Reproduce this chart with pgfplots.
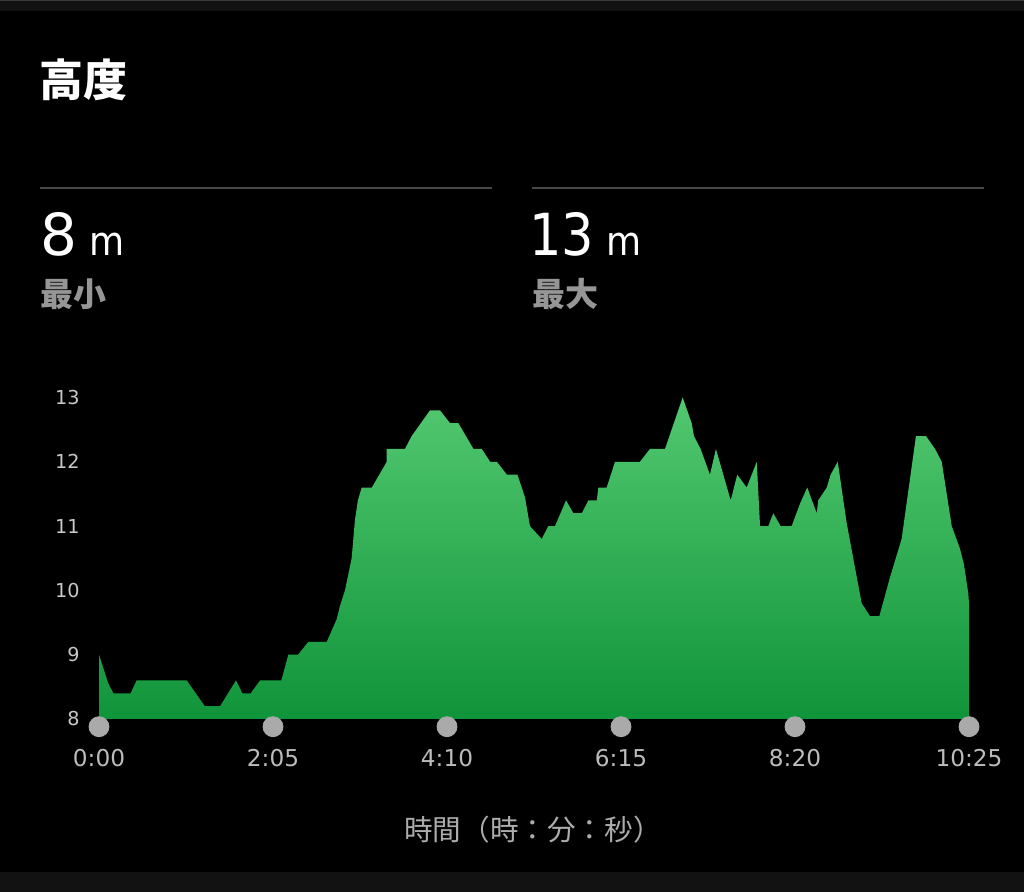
\documentclass[border=0pt]{standalone}
\usepackage{fontspec}
\usepackage{graphicx}
\usepackage{pgfplots}
\pgfplotsset{compat=1.18}
\setmainfont{DejaVu Sans}
\newfontfamily\jp{Noto Sans CJK JP}

\definecolor{band}{RGB}{18,18,18}
\definecolor{bandline}{RGB}{58,58,58}
\definecolor{sep}{RGB}{72,72,72}
\definecolor{subtxt}{RGB}{150,150,150}
\definecolor{ytc}{RGB}{200,200,200}
\definecolor{xtc}{RGB}{188,188,188}
\definecolor{titc}{RGB}{172,172,172}
\definecolor{dotc}{RGB}{170,170,170}
\definecolor{gtop}{RGB}{82,200,112}
\definecolor{gbot}{RGB}{16,148,58}

\begin{document}
\begin{tikzpicture}
% page frame, 1px = 0.5pt
\fill[black] (0,0) rectangle (512pt,446pt);
\begin{scope}[x=0.5pt,y=-0.5pt,shift={(0,446pt)}]
  \fill[band] (0,0) rectangle (1024,11);
  \fill[bandline] (0,0) rectangle (1024,1.5);
  \fill[band] (0,872) rectangle (1024,892);
  \node[anchor=west,inner sep=0pt,text=white] at (39,80)
    {\jp\bfseries\fontsize{22}{24}\selectfont 高度};
  \draw[sep,line width=1pt] (40,188) -- (492,188);
  \draw[sep,line width=1pt] (532,188) -- (984,188);
  \node[anchor=base west,inner sep=0pt,text=white] at (40,256)
    {\fontsize{29}{30}\selectfont 8};
  \node[anchor=base west,inner sep=0pt,text=white] at (89,256)
    {\fontsize{20}{22}\selectfont\scalebox{0.9}[1]{m}};
  \node[anchor=base west,inner sep=0pt,text=white] at (529,256)
    {\fontsize{29}{30}\selectfont\scalebox{0.88}[1]{13}};
  \node[anchor=base west,inner sep=0pt,text=white] at (606,256)
    {\fontsize{20}{22}\selectfont\scalebox{0.9}[1]{m}};
  \node[anchor=west,inner sep=0pt,text=subtxt] at (40,294)
    {\jp\bfseries\fontsize{16.5}{18}\selectfont 最小};
  \node[anchor=west,inner sep=0pt,text=subtxt] at (532,294)
    {\jp\bfseries\fontsize{16.5}{18}\selectfont 最大};
  \node[inner sep=0pt,text=titc] at (533,830)
    {\jp\fontsize{14.3}{16}\selectfont 時間（時：分：秒）};
\end{scope}

\begin{axis}[
  at={(49.5pt,86.5pt)}, anchor=south west,
  scale only axis,
  width=435pt, height=160.75pt,
  xmin=0, xmax=625, ymin=8, ymax=13,
  axis line style={draw=none},
  tick style={draw=none},
  clip=false,
  xtick={0,125,250,375,500,625},
  xticklabels={0:00,2:05,4:10,6:15,8:20,10:25},
  ytick={8,9,10,11,12,13},
  /pgf/number format/assume math mode=true,
  xticklabel style={font=\fontsize{11.6}{12}\selectfont, text=xtc,
    anchor=center, inner sep=0pt, yshift=-19.5pt},
  yticklabel style={font=\fontsize{9.6}{10}\selectfont, text=ytc,
    anchor=east, inner sep=0pt, xshift=-9.5pt},
]
% altitude (m) against time (s)
\addplot[draw=none, top color=gtop, bottom color=gbot] coordinates {
(0,8) (0,9.0) (6.7,8.55) (10.3,8.4) (22.7,8.4) (27,8.6) (63,8.6)
(76,8.2) (87,8.2) (98.4,8.6) (103,8.4) (109,8.4) (115.7,8.6) (131,8.6)
(136,9.0) (143,9.0) (150.4,9.2) (163.6,9.2) (170.7,9.55) (173,9.75)
(176.7,10.0) (181.5,10.5) (183.9,11.1) (186,11.4) (188.7,11.6) (196,11.6)
(206.7,12.0) (206.7,12.2) (219.8,12.2) (224.6,12.4) (237.8,12.8) (245,12.8)
(252.2,12.6) (258.2,12.6) (269,12.2) (275,12.2) (281,12.0) (285.8,12.0)
(293,11.8) (300.6,11.8) (306,11.45) (309.6,11.0) (318,10.8) (322.8,11.0)
(327.6,11.0) (335.5,11.4) (340.8,11.2) (346.8,11.2) (351.6,11.4) (357.6,11.4)
(358.7,11.6) (364.7,11.6) (370.7,12.0) (388.6,12.0) (395.8,12.2) (406.6,12.2)
(419.3,13.0) (425.8,12.6) (427.4,12.4) (432.2,12.2) (438.9,11.8) (443.2,12.2)
(453.8,11.4) (458.5,11.8) (465.3,11.6) (472.5,12.0) (474.9,11.0) (480.8,11.0)
(484.4,11.2) (489.7,11.0) (497.6,11.0) (503.6,11.35) (508.8,11.6) (515.6,11.2)
(516.7,11.4) (522.8,11.6) (525.6,11.8) (530.7,12.0) (537.1,11.05) (547.9,9.8)
(553.9,9.6) (560.6,9.6) (568.2,10.2) (576.6,10.8) (586.9,12.4) (594.1,12.4)
(600.6,12.2) (605.4,12.0) (612.6,11.0) (618.5,10.65) (621.4,10.4) (624.5,9.95)
(625,9.8) (625,8)
};
% tick dots
\addplot[only marks, mark=*, mark size=5pt, color=dotc] coordinates {
(0,7.88) (125,7.88) (250,7.88) (375,7.88) (500,7.88) (625,7.88)
};
\end{axis}
\end{tikzpicture}
\end{document}
